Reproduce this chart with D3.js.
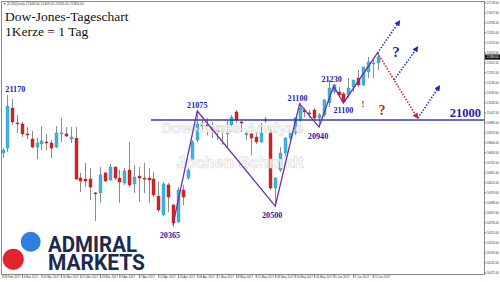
<!DOCTYPE html>
<html><head><meta charset="utf-8">
<script src="https://cdn.jsdelivr.net/npm/d3@7"></script>
<style>body{margin:0;background:#fff}svg{display:block}</style>
</head><body><svg id="c" width="500" height="282"></svg>
<script>
// ---- data ----
const dates = ["2017-02-28","2017-03-01","2017-03-02","2017-03-03","2017-03-06","2017-03-07","2017-03-08","2017-03-09","2017-03-10","2017-03-13","2017-03-14","2017-03-15","2017-03-16","2017-03-17","2017-03-20","2017-03-21","2017-03-22","2017-03-23","2017-03-24","2017-03-27","2017-03-28","2017-03-29","2017-03-30","2017-03-31","2017-04-03","2017-04-04","2017-04-05","2017-04-06","2017-04-07","2017-04-10","2017-04-11","2017-04-12","2017-04-13","2017-04-17","2017-04-18","2017-04-19","2017-04-20","2017-04-21","2017-04-24","2017-04-25","2017-04-26","2017-04-27","2017-04-28","2017-05-01","2017-05-02","2017-05-03","2017-05-04","2017-05-05","2017-05-08","2017-05-09","2017-05-10","2017-05-11","2017-05-12","2017-05-15","2017-05-16","2017-05-17","2017-05-18","2017-05-19","2017-05-22","2017-05-23","2017-05-24","2017-05-25","2017-05-26","2017-05-29","2017-05-30","2017-05-31","2017-06-01","2017-06-02","2017-06-05","2017-06-06","2017-06-07","2017-06-08","2017-06-09","2017-06-12","2017-06-13","2017-06-14","2017-06-15","2017-06-16"];
const open = [20799,20829,21073,20982,20976,20915,20884,20835,20854,20866,
 20860,20835,20915,20915,20884,20890,20646,20640,20640,20555,
 20555,20677,20634,20713,20646,20616,20695,20610,20658,20646,
 20646,20640,20536,20421,20604,20482,20378,20573,20646,20756,
 20878,20982,20970,20957,20939,20927,20915,20970,21049,20988,
 20909,20915,20896,20866,20994,20927,20585,20695,20799,20890,
 20921,21000,21061,21043,21061,21012,21031,21104,21171,21171,
 21159,21153,21201,21256,21214,21293,21342,21348];
const high = [20829,21153,21128,21031,20988,20957,20933,20890,20963,20915,
 20878,20963,21012,20957,20957,20957,20677,20738,20707,20561,
 20713,20683,20732,20716,20695,20707,20866,20726,20713,20738,
 20707,20683,20622,20622,20616,20484,20591,20604,20707,20878,
 21055,21000,21012,20988,20970,20970,21000,21031,21061,21000,
 20933,20921,20927,20982,21018,20939,20652,20835,20896,20933,
 21018,21104,21073,21061,21073,21043,21128,21244,21220,21201,
 21171,21256,21246,21305,21325,21384,21366,21409];
const low = [20768,20805,20970,20921,20896,20884,20829,20762,20817,20817,
 20768,20829,20866,20896,20860,20634,20561,20591,20512,20384,
 20494,20622,20628,20634,20494,20604,20591,20555,20500,20555,
 20494,20530,20439,20414,20439,20347,20372,20482,20634,20744,
 20866,20939,20909,20890,20878,20848,20829,20957,20982,20927,
 20878,20787,20854,20860,20982,20573,20475,20683,20774,20878,
 20909,20988,21018,21012,21000,20957,21018,21079,21159,21140,
 21104,21134,21171,21201,21207,21256,21256,21305];
const close = [20817,21085,20988,20976,20915,20909,20835,20860,20872,20860,
 20829,20921,20921,20902,20896,20640,20628,20628,20591,20549,
 20665,20628,20713,20646,20622,20689,20604,20652,20646,20640,
 20634,20543,20451,20610,20530,20372,20573,20530,20695,20866,
 20976,20963,20963,20939,20927,20933,20921,21018,21000,20982,
 20921,20890,20866,20921,21006,20585,20646,20799,20890,20921,
 21012,21073,21049,21037,21012,21031,21122,21195,21214,21153,
 21110,21195,21244,21214,21323,21354,21348,21384];
const yTicks = [21718,21657,21596,21535,21474,21413,21352,21291,21230,21169,21108,21047,20986,20925,20864,20803,20742,20681,20620,20559,20498,20437,20376,20315,20254,20193,20132,20071];
const xTickEvery = 4;
const lastPrice = 21384;
const levelPrice = 21000;
const levelStartIndex = 30.5;
// zigzag pivots: [candle index, price]
const zigzag = [[35,20360],[40,21055],[56,20475],[61,21098],[65,20957],[68,21207],[70,21104],[77,21409]];
const pivotLabels = [
  {i:1, p:21153, text:"21170", dx:8, dy:-3},
  {i:40, p:21055, text:"21075", dx:0, dy:-3},
  {i:35, p:20360, text:"20365", dx:-3, dy:13},
  {i:56, p:20475, text:"20500", dx:-3, dy:12},
  {i:61, p:21098, text:"21100", dx:-2, dy:-3},
  {i:65, p:20957, text:"20940", dx:-1, dy:12},
  {i:68, p:21207, text:"21230", dx:-2, dy:-4},
  {i:70, p:21104, text:"21100", dx:0, dy:10}
];
// projected scenarios: [[index, price],[index, price]]
const blueArrows = [[[77,21409],[81.4,21598]],[[80.4,21244],[85.1,21439]],[[85.3,21012],[89.6,21201]]];
const redArrows = [[[77,21409],[85.1,21018]]];
const marks = [
  {i:74.0, p:21079, text:"!", color:"#d42020", size:9},
  {i:77.9, p:21030, text:"?", color:"#d42020", size:14},
  {i:80.8, p:21384, text:"?", color:"#1a2aa8", size:15}
];

// ---- scales ----
const svg = d3.select("#c");
const L = 1.5, R = 484.5, T = 1.5, B = 274.5;
const x = d3.scaleLinear().domain([0, dates.length - 1]).range([2.5, 377.5]);
const y = d3.scaleLinear().domain([20060.6, 21713.7]).range([274, 3]);
const parse = d3.timeParse("%Y-%m-%d"), fmt = d3.timeFormat("%-d %b %Y");
const serif = "'Liberation Serif','Times New Roman',serif";

svg.append("rect").attr("width",500).attr("height",282).attr("fill","#fff");

// logo (behind chart)
const logo = svg.append("g");
logo.append("circle").attr("cx",30.7).attr("cy",241.7).attr("r",10).attr("fill","#2f7fe0");
logo.append("circle").attr("cx",13.3).attr("cy",259.3).attr("r",10.6).attr("fill","#e2242e");
const lt = logo.append("text").attr("font-family","Roboto,'Open Sans',sans-serif").attr("font-weight",700)
  .attr("font-size",22).attr("fill","#1b2a4d");
lt.append("tspan").attr("x",48).attr("y",251.5).attr("textLength",89).attr("lengthAdjust","spacingAndGlyphs").text("ADMIRAL");
lt.append("tspan").attr("x",48).attr("y",270).attr("textLength",97).attr("lengthAdjust","spacingAndGlyphs").text("MARKETS");

// title
svg.append("text").attr("x",5).attr("y",20.5).attr("font-family",serif).attr("font-size",13.5).attr("fill","#111").text("Dow-Jones-Tageschart");
svg.append("text").attr("x",5).attr("y",36).attr("font-family",serif).attr("font-size",13.5).attr("fill","#111").text("1Kerze = 1 Tag");
svg.append("text").attr("x",3).attr("y",4.6).attr("font-family","Arial,sans-serif").attr("font-size",3.3).attr("fill","#444")
  .text("▼ [DJ30],Daily " + [open, high, low, close].map(a => a[a.length-1].toFixed(2)).join(" "));

// frame
svg.append("rect").attr("x",L).attr("y",T).attr("width",R-L).attr("height",B-T).attr("fill","none").attr("stroke","#8a8a8a").attr("stroke-width",1);

// right axis
const yAxis = d3.axisRight(y).tickValues(yTicks).tickSize(1.5).tickPadding(0.6).tickFormat(d3.format(".2f"));
const ga = svg.append("g").attr("transform",`translate(${R},0)`).call(yAxis);
ga.select(".domain").remove();
ga.selectAll("line").attr("stroke","#777");
ga.selectAll("text").attr("font-size",2.9).attr("font-family","Arial,sans-serif").attr("fill","#333");

// bottom axis
const xIdx = d3.range(0, dates.length, xTickEvery);
const xAxis = d3.axisBottom(x).tickValues(xIdx).tickSize(3.5).tickFormat(i => fmt(parse(dates[i])));
const gx = svg.append("g").attr("transform",`translate(0,${B})`).call(xAxis);
gx.select(".domain").remove();
gx.selectAll("line").attr("stroke","#777");
gx.selectAll("text").attr("text-anchor","start").attr("x",1.2).attr("y",1.4).attr("font-size",2.9).attr("font-family","Arial,sans-serif").attr("fill","#333");

// candles
const idx = d3.range(dates.length);
const cg = svg.append("g");
cg.selectAll("line.w").data(idx).join("line").attr("class","w")
  .attr("x1",i=>Math.round(x(i))+0.5).attr("x2",i=>Math.round(x(i))+0.5)
  .attr("y1",i=>y(high[i])).attr("y2",i=>y(low[i])).attr("stroke","#8c8c8c").attr("stroke-width",1);
cg.selectAll("rect.b").data(idx).join("rect").attr("class","b")
  .attr("x",i=>Math.round(x(i))-1)
  .attr("width",3)
  .attr("y",i=>y(Math.max(open[i],close[i])))
  .attr("height",i=>Math.max(1, Math.abs(y(open[i])-y(close[i]))))
  .attr("fill",i=>close[i]>=open[i]?"#3db5dd":"#d72222")
  .attr("stroke",i=>close[i]>=open[i]?"#2c93bb":"#b01616").attr("stroke-width",0.4);

// 21000 level
svg.append("line").attr("x1",x(levelStartIndex)).attr("x2",R).attr("y1",y(levelPrice)).attr("y2",y(levelPrice))
  .attr("stroke","#3b3bab").attr("stroke-width",1.3);

// watermark
const wm = svg.append("g").attr("font-family","'Liberation Sans',Arial,sans-serif").attr("font-weight",700)
  .attr("fill","#ffffff").attr("fill-opacity",0.85).attr("stroke","#d6d6d6").attr("stroke-width",0.6);
wm.append("text").attr("x",161).attr("y",133).attr("font-size",15).text("Dow-Jones-Analyse");
wm.append("text").attr("x",176).attr("y",168).attr("font-size",16.5).text("Jochen Schmidt");

// zigzag
svg.append("path").datum(zigzag)
  .attr("d", d3.line().x(d=>x(d[0])).y(d=>y(d[1])))
  .attr("fill","none").attr("stroke","#6a2fa8").attr("stroke-width",1.3);

// arrows
const defs = svg.append("defs");
function marker(id, color){
  defs.append("marker").attr("id",id).attr("viewBox","0 0 10 10").attr("refX",6).attr("refY",5)
    .attr("markerWidth",6).attr("markerHeight",6).attr("orient","auto").attr("markerUnits","userSpaceOnUse")
    .append("path").attr("d","M0,0 L10,5 L0,10 Z").attr("fill",color);
}
marker("ab","#1c2fc4"); marker("ar","#d42020");
const ln = d3.line().x(d=>x(d[0])).y(d=>y(d[1]));
svg.selectAll("path.ba").data(blueArrows).join("path").attr("class","ba").attr("d",ln)
  .attr("fill","none").attr("stroke","#1c2fc4").attr("stroke-width",1.6).attr("stroke-dasharray","1.4,1.6").attr("marker-end","url(#ab)");
svg.selectAll("path.ra").data(redArrows).join("path").attr("class","ra").attr("d",ln)
  .attr("fill","none").attr("stroke","#d42020").attr("stroke-width",1.6).attr("stroke-dasharray","1.4,1.6").attr("marker-end","url(#ar)");

// pivot labels
svg.selectAll("text.pl").data(pivotLabels).join("text").attr("class","pl")
  .attr("x",d=>x(d.i)+d.dx).attr("y",d=>y(d.p)+d.dy).attr("text-anchor","middle")
  .attr("font-family",serif).attr("font-weight",700).attr("font-size",8.2).attr("fill","#2323a6").text(d=>d.text);
svg.append("text").attr("x",481).attr("y",y(levelPrice)-3).attr("text-anchor","end")
  .attr("font-family",serif).attr("font-weight",700).attr("font-size",12.5).attr("fill","#2323a6").text(String(levelPrice));
svg.selectAll("text.mk").data(marks).join("text").attr("class","mk")
  .attr("x",d=>x(d.i)).attr("y",d=>y(d.p)).attr("text-anchor","middle")
  .attr("font-family",serif).attr("font-weight",700).attr("font-size",d=>d.size).attr("fill",d=>d.color).text(d=>d.text);

// last price box
const ly = y(lastPrice);
svg.append("rect").attr("x",R+0.5).attr("y",ly-2.6).attr("width",15).attr("height",5.2).attr("fill","#111");
svg.append("text").attr("x",R+2).attr("y",ly+1.1).attr("font-size",2.9).attr("font-family","Arial,sans-serif").attr("fill","#fff")
  .text(lastPrice.toFixed(2));
</script></body></html>
